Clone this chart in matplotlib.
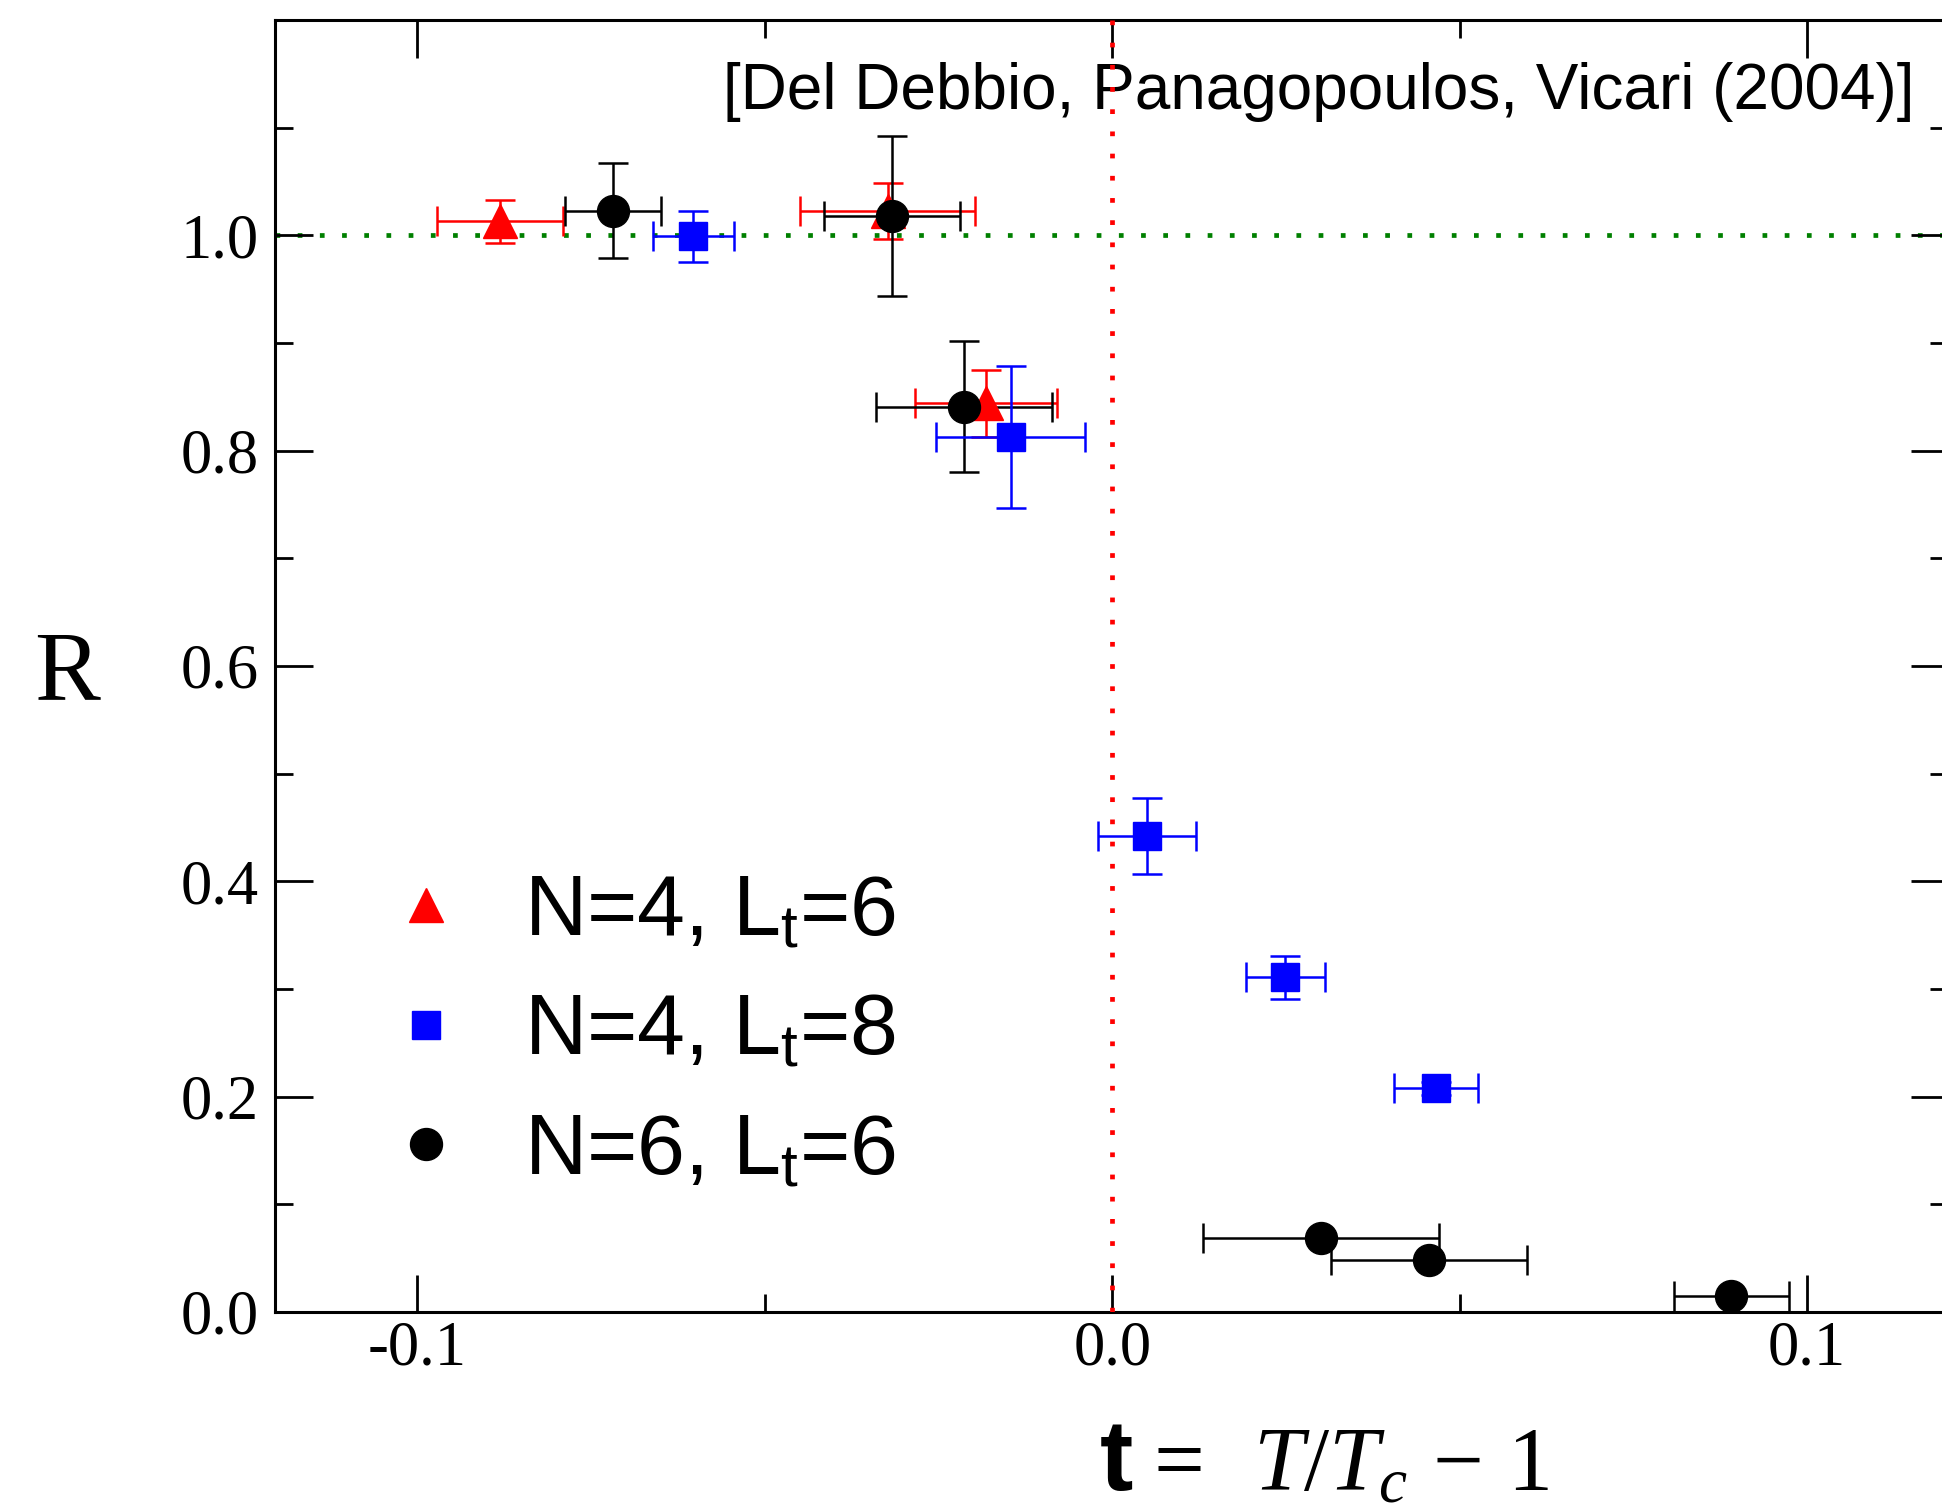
import matplotlib
matplotlib.use("Agg")
import matplotlib.pyplot as plt
import matplotlib.ticker as ticker
from matplotlib.lines import Line2D

plt.rcParams.update({
    "font.family": "Liberation Serif",
    "axes.unicode_minus": False,
    "mathtext.fontset": "custom",
    "mathtext.rm": "Liberation Serif",
    "mathtext.it": "Liberation Serif:italic",
    "mathtext.bf": "Liberation Serif:bold",
    "mathtext.sf": "Liberation Sans",
})

# N=4, Lt=6 (red triangles)
t_n4l6 = [-0.0881, -0.0323, -0.0182]
r_n4l6 = [1.013, 1.023, 0.844]
tx_n4l6 = [0.0091, 0.0126, 0.0102]
ry_n4l6 = [0.020, 0.026, 0.031]

# N=4, Lt=8 (blue squares)
t_n4l8 = [-0.0603, -0.0146, 0.0050, 0.0249, 0.0466]
r_n4l8 = [0.999, 0.813, 0.442, 0.311, 0.208]
tx_n4l8 = [0.0058, 0.0107, 0.0070, 0.0057, 0.0061]
ry_n4l8 = [0.024, 0.066, 0.035, 0.020, 0.006]

# N=6, Lt=6 (black circles)
t_n6l6 = [-0.0718, -0.0317, -0.0213, 0.0300, 0.0456, 0.0891]
r_n6l6 = [1.023, 1.018, 0.841, 0.069, 0.0485, 0.0145]
tx_n6l6 = [0.0069, 0.0098, 0.0127, 0.0170, 0.0141, 0.0083]
ry_n6l6 = [0.044, 0.074, 0.061, 0.004, 0.004, 0.004]

labels = [r"N=4, L$_\mathsf{t}$=6", r"N=4, L$_\mathsf{t}$=8", r"N=6, L$_\mathsf{t}$=6"]

W, H = 1942, 1510
fig = plt.figure(figsize=(W / 100, H / 100), dpi=100)
ax = fig.add_axes([275 / W, 1 - 1312 / H, 1673 / W, 1292 / H])

eb = dict(linestyle="none", elinewidth=1.8, capsize=11, capthick=1.8)
ax.errorbar(t_n4l6, r_n4l6, xerr=tx_n4l6, yerr=ry_n4l6, marker="^", ms=24,
            color="#ff0000", **eb)
ax.errorbar(t_n6l6, r_n6l6, xerr=tx_n6l6, yerr=ry_n6l6, marker="o", ms=23,
            color="black", **eb)
ax.errorbar(t_n4l8, r_n4l8, xerr=tx_n4l8, yerr=ry_n4l8, marker="s", ms=20,
            color="#0000ff", **eb)

ax.axhline(1.0, color="#008000", lw=3.4, linestyle=(0, (1, 3.7)), zorder=1.5)
ax.axvline(0.0, color="#ff0000", lw=3.4, linestyle=(0, (1, 3.7)), zorder=4)

ax.set_xlim(-0.1205, 0.1203)
ax.set_ylim(0, 1.2)
ax.set_xticks([-0.1, 0.0, 0.1])
ax.set_yticks([0.0, 0.2, 0.4, 0.6, 0.8, 1.0])
ax.xaxis.set_minor_locator(ticker.FixedLocator([-0.05, 0.05]))
ax.yaxis.set_minor_locator(ticker.FixedLocator([0.1, 0.3, 0.5, 0.7, 0.9, 1.1]))
ax.xaxis.set_major_formatter(ticker.FormatStrFormatter("%.1f"))
ax.yaxis.set_major_formatter(ticker.FormatStrFormatter("%.1f"))
ax.tick_params(which="both", direction="in", top=True, right=True, width=2,
               labelsize=45)
ax.tick_params(which="major", length=27)
ax.tick_params(which="minor", length=13)
ax.tick_params(axis="x", pad=6)
ax.tick_params(axis="y", pad=12)
for s in ax.spines.values():
    s.set_linewidth(2.2)

ax.text(0.1155, 1.117, "[Del Debbio, Panagopoulos, Vicari (2004)]",
        family="Liberation Sans", fontsize=46, ha="right", va="baseline", zorder=1)

handles = [
    Line2D([], [], linestyle="none", marker="^", ms=24, color="#ff0000"),
    Line2D([], [], linestyle="none", marker="s", ms=20, color="#0000ff"),
    Line2D([], [], linestyle="none", marker="o", ms=23, color="black"),
]
ax.legend(handles, labels, loc="upper left", bbox_to_anchor=(0.0646, 0.3397),
          frameon=False, prop={"family": "Liberation Sans", "size": 62},
          handlelength=1.0, handletextpad=0.64, labelspacing=0.46,
          borderpad=0, borderaxespad=0)

fig.text(67 / W, 1 - 699 / H, "R", fontsize=71, ha="center", va="baseline")
fig.text(1100 / W, 1 - 1490 / H, "t", family="Liberation Sans", fontsize=72,
         fontweight="bold", ha="left", va="baseline")
fig.text(1140 / W, 1 - 1490 / H, r"$=\;\;T/T_c\,-\,1$", fontsize=65,
         ha="left", va="baseline")

fig.savefig("out.png", dpi=100)
